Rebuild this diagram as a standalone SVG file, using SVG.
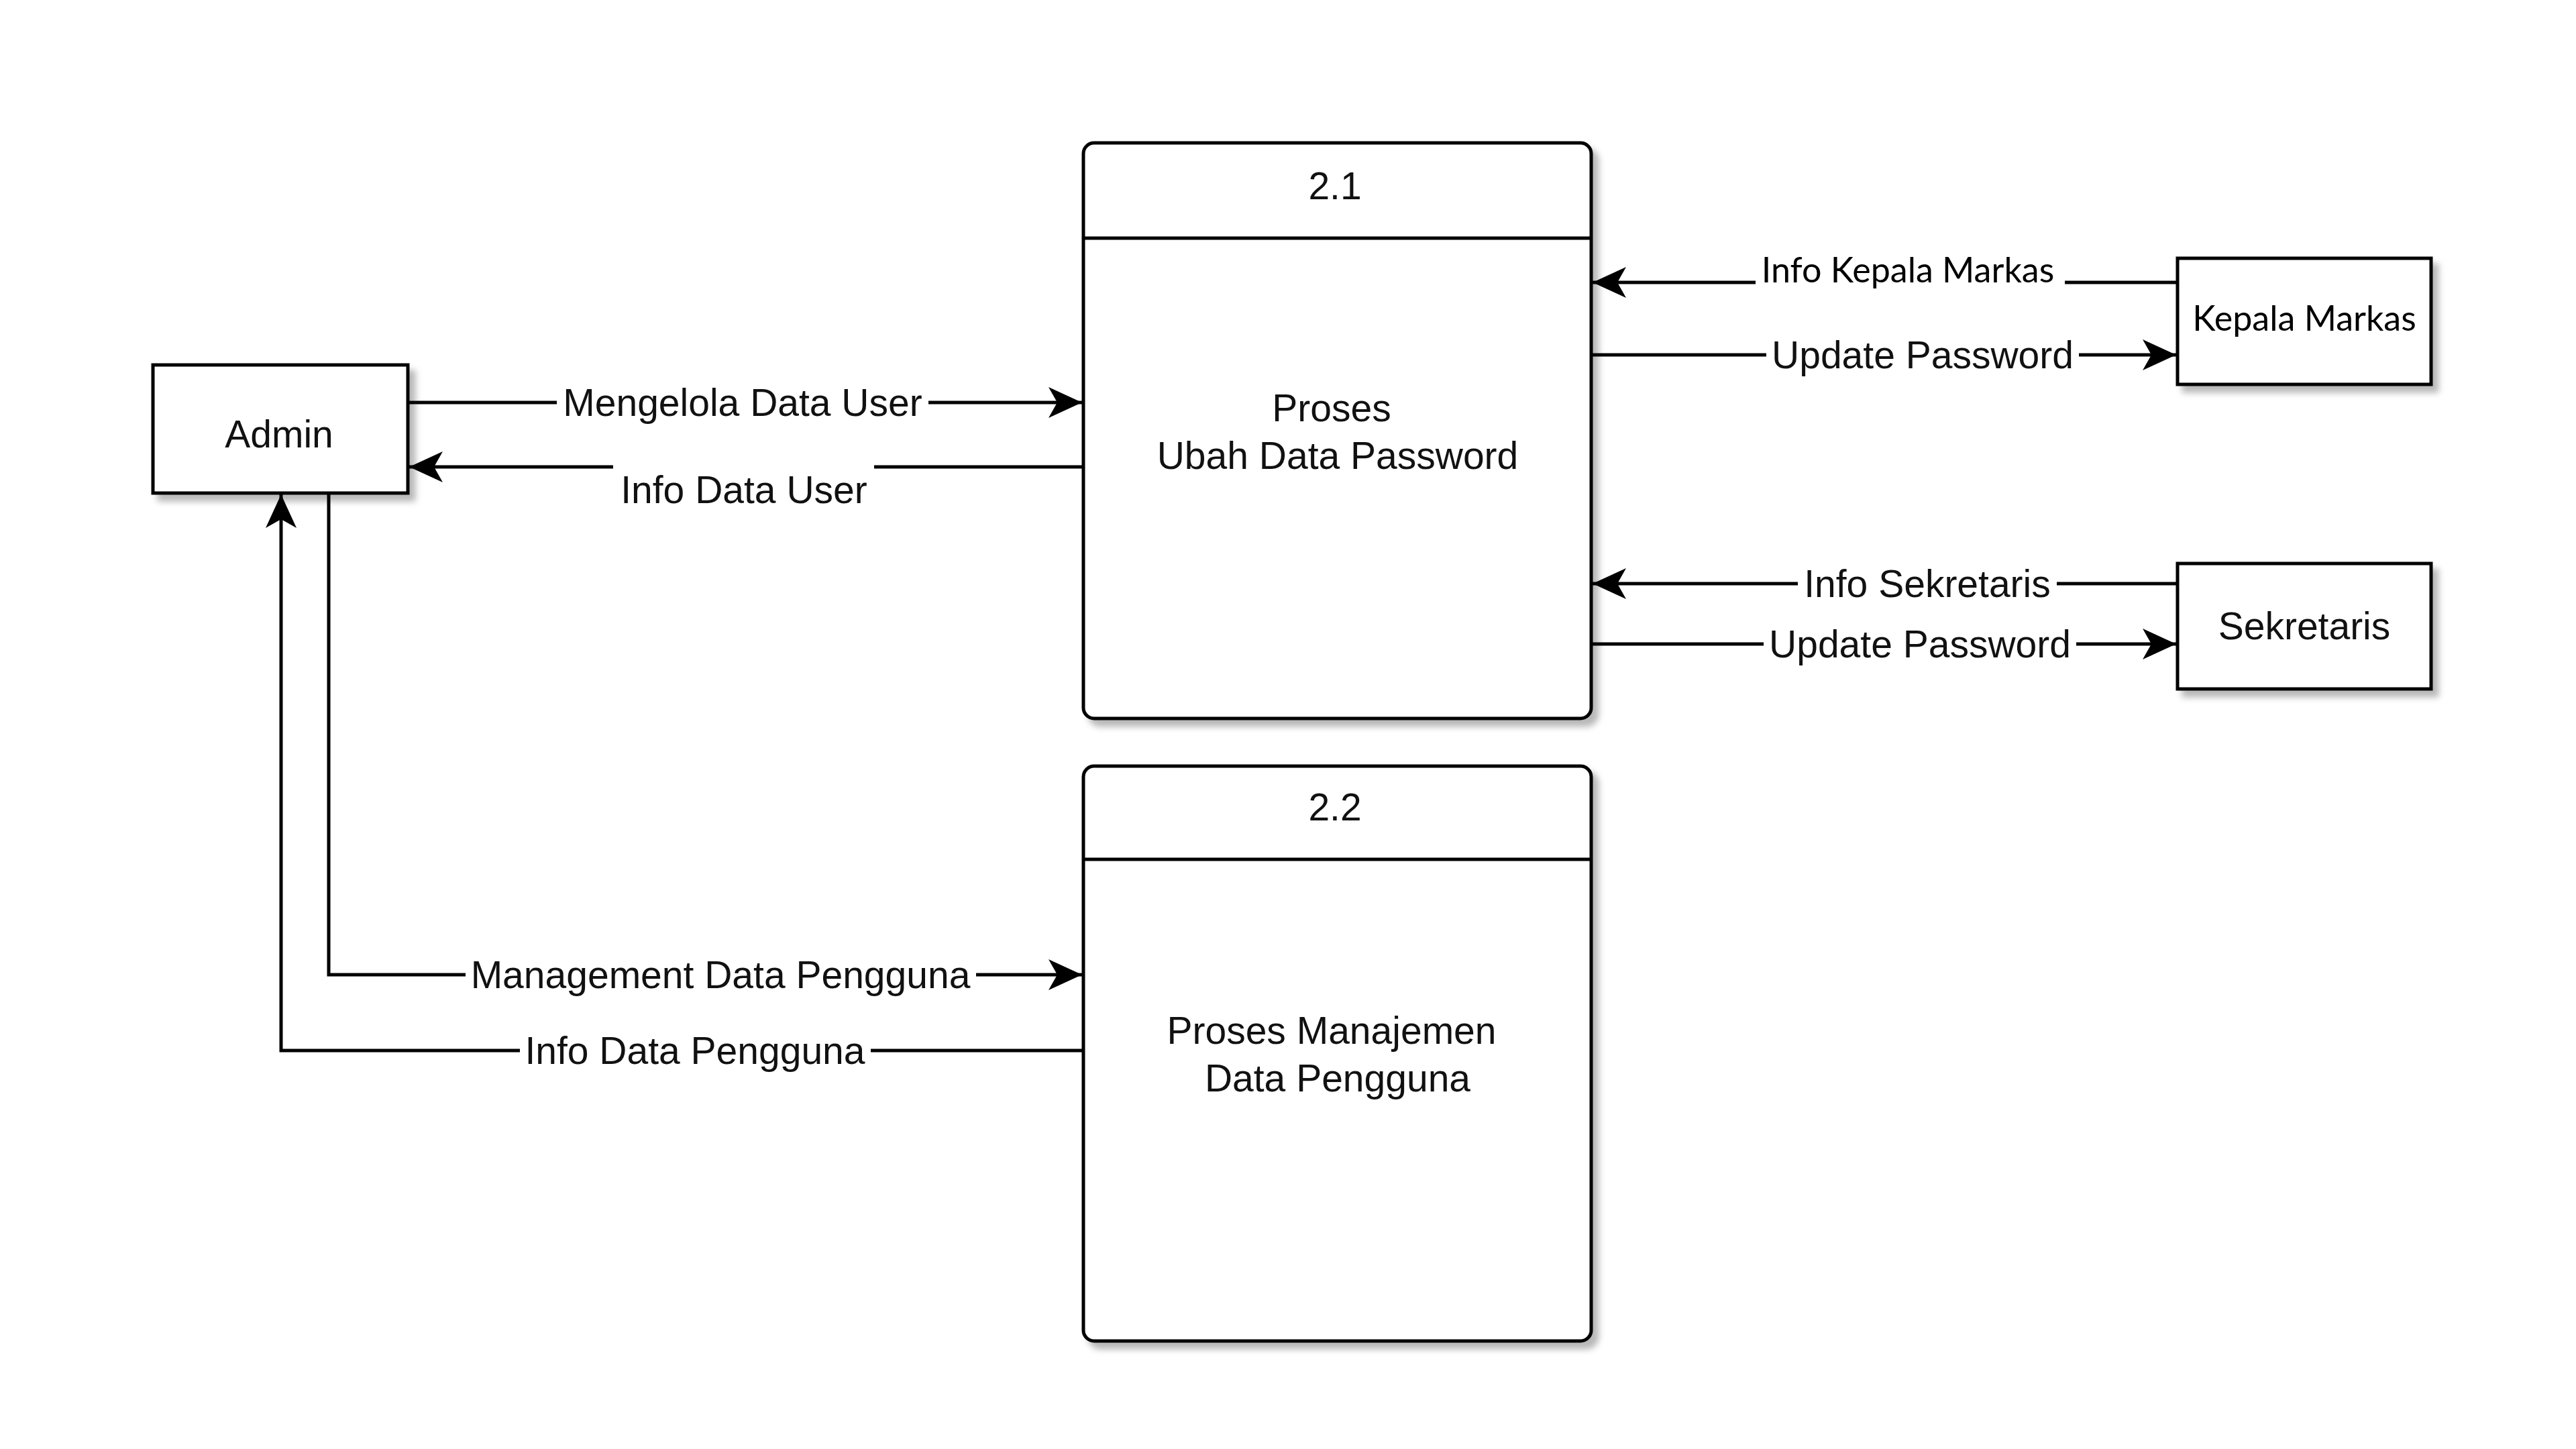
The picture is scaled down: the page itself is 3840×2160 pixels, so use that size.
<svg xmlns="http://www.w3.org/2000/svg" width="3840" height="2160" viewBox="0 0 3840 2160">
<defs>
<filter id="sh" x="-10%" y="-10%" width="130%" height="130%">
<feDropShadow dx="9" dy="10" stdDeviation="5" flood-color="#000" flood-opacity="0.28"/>
</filter>
<marker id="arr" markerUnits="userSpaceOnUse" viewBox="-52 -25 54 50" markerWidth="54" markerHeight="50" refX="0" refY="0" orient="auto">
<path d="M0,0 L-50,-23 L-37,0 L-50,23 Z" fill="#000"/>
</marker>
</defs>
<style>
.box{fill:#fff;stroke:#000;stroke-width:5;filter:url(#sh)}
.div{stroke:#000;stroke-width:5;fill:none}
.ln{fill:none;stroke:#000;stroke-width:5}
.arw{marker-end:url(#arr)}
.t{font-family:"Liberation Sans",Arial,sans-serif;font-size:57px;fill:#111;text-anchor:middle}
.c{font-family:Lato,"Open Sans",sans-serif;font-size:52px;fill:#000;text-anchor:middle}
.bg{fill:#fff}
</style>
<rect width="3840" height="2160" fill="#fff"/>

<g id="connectors">
<path class="ln arw" d="M608,600 H1613"/>
<rect class="bg" x="830" y="567" width="554" height="70"/>
<text class="t" x="1107" y="620">Mengelola Data User</text>

<path class="ln arw" d="M1613,696 H610"/>
<rect class="bg" x="914" y="689" width="389" height="80"/>
<text class="t" x="1109" y="750">Info Data User</text>

<path class="ln arw" d="M3244,421 H2374"/>
<rect class="bg" x="2617" y="378" width="461" height="56"/>
<text class="c" x="2844" y="421">Info Kepala Markas</text>

<path class="ln arw" d="M2374,529 H3244"/>
<rect class="bg" x="2633" y="497" width="466" height="70"/>
<text class="t" x="2866" y="549">Update Password</text>

<path class="ln arw" d="M3244,870 H2374"/>
<rect class="bg" x="2680" y="836" width="386" height="70"/>
<text class="t" x="2873" y="890">Info Sekretaris</text>

<path class="ln arw" d="M2374,960 H3244"/>
<rect class="bg" x="2629" y="925" width="466" height="70"/>
<text class="t" x="2862" y="980">Update Password</text>

<path class="ln arw" d="M490,735 V1453 H1613"/>
<rect class="bg" x="694" y="1417" width="761" height="72"/>
<text class="t" x="1074" y="1473">Management Data Pengguna</text>

<path class="ln arw" d="M1613,1566 H419 V737"/>
<rect class="bg" x="775" y="1531" width="523" height="72"/>
<text class="t" x="1036" y="1586">Info Data Pengguna</text>
</g>

<g id="admin">
<rect class="box" x="228" y="544" width="380" height="191"/>
<text class="t" x="416" y="667">Admin</text>
</g>

<g id="p21">
<rect class="box" x="1615" y="213" width="757" height="858" rx="16" ry="16"/>
<line class="div" x1="1615" y1="355" x2="2372" y2="355"/>
<text class="t" x="1990" y="297">2.1</text>
<text class="t" x="1985" y="628">Proses</text>
<text class="t" x="1994" y="699">Ubah Data Password</text>
</g>

<g id="p22">
<rect class="box" x="1615" y="1142" width="757" height="857" rx="16" ry="16"/>
<line class="div" x1="1615" y1="1281" x2="2372" y2="1281"/>
<text class="t" x="1990" y="1223">2.2</text>
<text class="t" x="1985" y="1556">Proses Manajemen</text>
<text class="t" x="1994" y="1627">Data Pengguna</text>
</g>

<g id="kepala">
<rect class="box" x="3246" y="385" width="378" height="188"/>
<text class="c" x="3435" y="493">Kepala Markas</text>
</g>

<g id="sekretaris">
<rect class="box" x="3246" y="840" width="378" height="187"/>
<text class="t" x="3435" y="953">Sekretaris</text>
</g>
</svg>
